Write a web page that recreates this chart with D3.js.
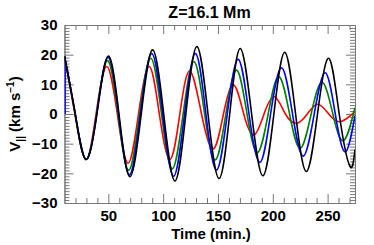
<!DOCTYPE html>
<html>
<head>
<meta charset="utf-8">
<script src="https://cdn.jsdelivr.net/npm/d3@7"></script>
<style>
  body { margin: 0; background: #fff; }
  svg text { font-family: "Liberation Sans", Arial, sans-serif; font-weight: bold; }
</style>
</head>
<body>
<svg width="374" height="245"></svg>
<script>
// key points (extrema and zero crossings), time in min.
var blackTime = [10, 19.8, 29.5, 39.6, 49.8, 59.7, 69.6, 80, 90.3, 100.5, 110.7, 120.7, 130.8, 140.9, 151, 160.7, 170.3, 180.7, 191, 201, 210.9, 220.8, 230.7, 240.8, 251, 260.6, 270.3, 275];
var blackV    = [19.4, 0, -15.3, 0, 19.5, 0, -21.1, 0, 21.6, 0, -22.6, 0, 22.7, 0, -21.7, 0, 22.1, 0, -20.8, 0, 20.8, 0, -19.4, 0, 18.8, 0, -17.6, -12];

var blueTime = [10, 19.8, 29.5, 39.4, 49.5, 59.3, 69.2, 79.3, 89.5, 99.5, 109.5, 119.5, 129.5, 139, 148.7, 158.5, 168.5, 178.3, 188.3, 198, 208, 218, 227.8, 237.8, 247.8, 257, 266, 275];
var blueV    = [19.5, 0, -15.3, 0, 19.1, 0, -20.5, 0, 20.4, 0, -21, 0, 20.4, 0, -18.9, 0, 18.4, 0, -16.3, 0, 15.6, 0, -14.2, 0, 13.9, 0, -12.8, -0.5];
var blueLead = [0, 19.5];

var greenTime = [10, 19.7, 29.5, 39.2, 49, 58.8, 68.5, 78.5, 88.7, 98.5, 108.3, 118.2, 128.2, 137.8, 147.5, 157.2, 167, 176.5, 186, 195.8, 205.5, 215.3, 225, 235, 245, 254.8, 264.5, 275];
var greenV    = [19.5, 0, -15.3, 0, 18, 0, -19, 0, 18.8, 0, -18.5, 0, 17.6, 0, -15.5, 0, 14.8, 0, -13, 0, 12.6, 0, -11.6, 0, 10.7, 0, -9, 2.1];

var redTime = [10, 19.5, 29.5, 38.8, 48.5, 58.2, 68, 77.5, 87.3, 96.5, 106.2, 115.2, 124.3, 135, 145.7, 155, 164.3, 173.5, 182.8, 192, 201.5, 211.5, 221.8, 231.5, 241, 251, 261.5, 275];
var redV    = [19.5, 0, -15.3, 0, 16, 0, -16.6, 0, 16, 0, -15.3, 0, 14.5, 0, -11.8, 0, 9.8, 0, -7.1, 0, 5.8, 0, -3.1, 0, 3.3, 0, -2.6, 0.8];

var xMajor = [50, 100, 150, 200, 250];
var yMajor = [-30, -20, -10, 0, 10, 20, 30];

var svg = d3.select("svg");
var x = d3.scaleLinear().domain([10, 275]).range([64.5, 355]);
var y = d3.scaleLinear().domain([-30, 30]).range([203, 25]);

var xMinor = d3.range(20, 275, 10).filter(function(d) { return d % 50 != 0; });
var yMinor = d3.range(-29, 30, 1).filter(function(d) { return d % 10 != 0; });

function styleAxis(g) {
	g.selectAll("path, line").attr("stroke", "#777").attr("stroke-width", 1);
	g.selectAll("text").attr("fill", "#000").style("font-size", "15px");
}

// minor ticks on all four sides
svg.append("g").attr("transform", "translate(0,203)")
	.call(d3.axisBottom(x).tickValues(xMinor).tickSize(-5).tickSizeOuter(0).tickFormat(""))
	.call(styleAxis);
svg.append("g").attr("transform", "translate(0,25)")
	.call(d3.axisTop(x).tickValues(xMinor).tickSize(-5).tickSizeOuter(0).tickFormat(""))
	.call(styleAxis);
svg.append("g").attr("transform", "translate(64.5,0)")
	.call(d3.axisLeft(y).tickValues(yMinor).tickSize(-5).tickSizeOuter(0).tickFormat(""))
	.call(styleAxis);
svg.append("g").attr("transform", "translate(355,0)")
	.call(d3.axisRight(y).tickValues(yMinor).tickSize(-5).tickSizeOuter(0).tickFormat(""))
	.call(styleAxis);

// major ticks
svg.append("g").attr("transform", "translate(0,203)")
	.call(d3.axisBottom(x).tickValues(xMajor).tickSize(-9).tickSizeOuter(0).tickPadding(7))
	.call(styleAxis);
svg.append("g").attr("transform", "translate(0,25)")
	.call(d3.axisTop(x).tickValues(xMajor).tickSize(-9).tickSizeOuter(0).tickFormat(""))
	.call(styleAxis);
svg.append("g").attr("transform", "translate(64.5,0)")
	.call(d3.axisLeft(y).tickValues(yMajor).tickSize(-9).tickSizeOuter(0).tickPadding(7)
		.tickFormat(function(d) { return d < 0 ? "\u2212" + (-d) : d; }))
	.call(styleAxis);
svg.append("g").attr("transform", "translate(355,0)")
	.call(d3.axisRight(y).tickValues(yMajor).tickSize(-9).tickSizeOuter(0).tickFormat(""))
	.call(styleAxis);

svg.append("clipPath").attr("id", "plotclip").append("rect")
	.attr("x", x.range()[0]).attr("y", y.range()[1])
	.attr("width", x.range()[1] - x.range()[0]).attr("height", y.range()[0] - y.range()[1]);

var line = d3.line()
	.x(function(d) { return x(d[0]); })
	.y(function(d) { return y(d[1]); })
	.curve(d3.curveNatural);

var series = [
	{t: redTime, v: redV, color: "#ff0000"},
	{t: greenTime, v: greenV, color: "#008000"},
	{t: blueTime, v: blueV, color: "#0000ff"},
	{t: blackTime, v: blackV, color: "#000000"}
];

var plot = svg.append("g").attr("clip-path", "url(#plotclip)");

plot.append("path")
	.attr("d", d3.line()([[x(10) + 0.6, y(blueLead[0])], [x(10) + 0.6, y(blueLead[1])]]))
	.attr("stroke", "#0000ff").attr("stroke-width", 1.5).attr("fill", "none");

series.forEach(function(s) {
	plot.append("path")
		.datum(s.t.map(function(t, i) { return [t, s.v[i]]; }))
		.attr("d", line)
		.attr("fill", "none")
		.attr("stroke", s.color)
		.attr("stroke-width", 1.6);
});

svg.append("text")
	.attr("x", 209.5).attr("y", 17.5)
	.attr("text-anchor", "middle")
	.style("font-size", "16px")
	.text("Z=16.1 Mm");

svg.append("text")
	.attr("x", 211).attr("y", 239)
	.attr("text-anchor", "middle")
	.style("font-size", "15px")
	.text("Time (min.)");

var ylab = svg.append("text")
	.attr("transform", "translate(20,114) rotate(-90)")
	.attr("text-anchor", "middle")
	.style("font-size", "15px");
ylab.append("tspan").text("V");
ylab.append("tspan").attr("dy", 4).style("font-size", "10px").text("||");
ylab.append("tspan").attr("dy", -4).text(" (km s");
ylab.append("tspan").attr("dy", -6).style("font-size", "10px").text("\u22121");
ylab.append("tspan").attr("dy", 6).text(")");
</script>
</body>
</html>
